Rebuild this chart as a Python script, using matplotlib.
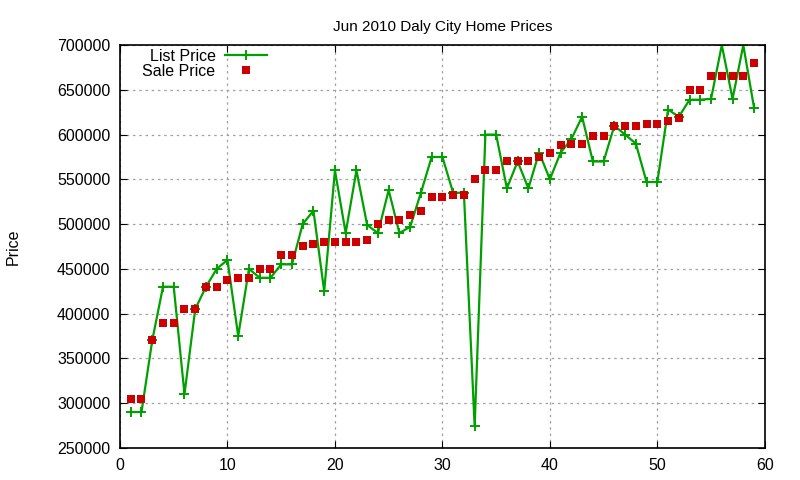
import matplotlib.pyplot as plt
from matplotlib.ticker import MultipleLocator

plt.rcParams['font.family'] = ['Liberation Sans', 'DejaVu Sans']

# month index 1..59
idx = list(range(1, 60))

list_price = [290000, 290000, 370000, 430000, 430000, 310000, 405000, 430000, 450000, 460000,
              375000, 450000, 440000, 440000, 455000, 455000, 500000, 515000, 425000, 560000,
              490000, 560000, 499000, 490000, 538000, 490000, 497000, 535000, 575000, 575000,
              535000, 535000, 274000, 600000, 600000, 540000, 570000, 540000, 580000, 550000,
              580000, 595000, 620000, 570000, 570000, 610000, 600000, 590000, 547000, 547000,
              628000, 620000, 639000, 639000, 640000, 700000, 640000, 700000, 630000]

sale_price = [305000, 305000, 370000, 390000, 390000, 405000, 405000, 430000, 430000, 438000,
              440000, 440000, 450000, 450000, 465000, 465000, 475000, 478000, 480000, 480000,
              480000, 480000, 482000, 500000, 505000, 505000, 510000, 515000, 530000, 530000,
              533000, 533000, 550000, 560000, 560000, 570000, 570000, 570000, 575000, 580000,
              588000, 590000, 590000, 598000, 598000, 610000, 610000, 610000, 612000, 612000,
              615000, 619000, 650000, 650000, 666000, 666000, 666000, 666000, 680000]

fig = plt.figure(figsize=(8, 4.8), dpi=100)
ax = fig.add_axes([0.15, 0.067, 0.806, 0.839])

ax.plot(idx, list_price, color='#00a000', lw=1.6, marker='+', ms=7, mew=1.4,
        label='List Price', zorder=2)
ax.plot(idx, sale_price, ls='none', color='#cc0000', marker='s', ms=6, mew=0,
        label='Sale Price', zorder=3)

ax.set_xlim(0, 60)
ax.set_ylim(250000, 700000)
ax.xaxis.set_major_locator(MultipleLocator(10))
ax.yaxis.set_major_locator(MultipleLocator(50000))
ax.grid(True, color='#a0a0a0', ls=(0, (2, 3)), lw=0.9)
ax.tick_params(direction='in', top=True, right=True, length=5, labelsize=11.5, pad=7)
for s in ax.spines.values():
    s.set_linewidth(1.2)

ax.set_title('Jun 2010 Daly City Home Prices', fontsize=11, pad=10)
ax.set_ylabel('Price', fontsize=11.5, labelpad=26)

leg = ax.legend(loc='upper left', bbox_to_anchor=(0.02, 1.015), frameon=False,
                markerfirst=False, fontsize=11.5, handlelength=2.6, handletextpad=0.6,
                borderaxespad=0.2, labelspacing=0.0)
for t in leg.get_texts():
    t.set_ha('right')

fig.savefig('out.png', dpi=100)
